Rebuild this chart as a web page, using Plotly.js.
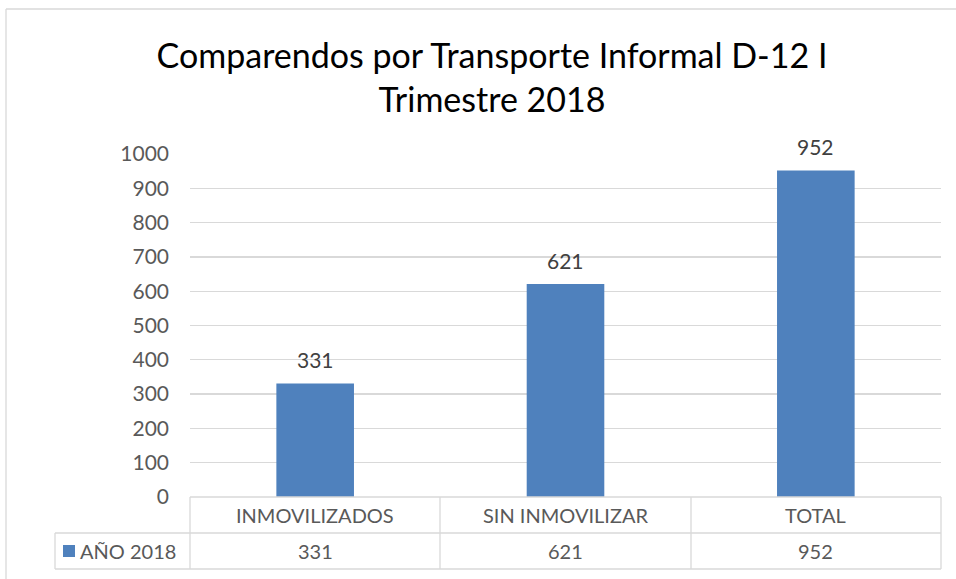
<!DOCTYPE html>
<html>
<head>
<meta charset="utf-8">
<script src="https://cdn.plot.ly/plotly-3.0.1.min.js"></script>
<style>html,body{margin:0;padding:0;background:#fff;}#chart{width:956px;height:579px;}</style>
</head>
<body>
<div id="chart"></div>
<script>
const categories = ["INMOVILIZADOS", "SIN INMOVILIZAR", "TOTAL"];
const values = [331, 621, 952];
const seriesName = "AÑO 2018";
const yTicks = [0, 100, 200, 300, 400, 500, 600, 700, 800, 900, 1000];

const W = 956, H = 579;
const L = 190, R = 15, T = 154, B = 82;
const pw = W - L - R, ph = H - T - B;
const X = px => (px - L) / pw;
const Y = py => (H - B - py) / ph;

const FONT = "Lato, 'Open Sans', sans-serif";
const GRAY = "#595959";
const LINE = "#D9D9D9";
const BLUE = "#4F81BD";

const trace = {
  type: "bar",
  x: categories,
  y: values,
  name: seriesName,
  marker: {color: BLUE},
  hoverinfo: "skip",
  showlegend: false
};

const annotations = [];
values.forEach((v, i) => {
  annotations.push({x: categories[i], y: v, xref: "x", yref: "y", text: String(v),
    showarrow: false, yanchor: "bottom", yshift: 9, font: {family: FONT, size: 21, color: "#404040"}});
  annotations.push({x: categories[i], y: Y(515), xref: "x", yref: "paper", text: categories[i],
    showarrow: false, yanchor: "middle", font: {family: FONT, size: 20, color: GRAY}});
  annotations.push({x: categories[i], y: Y(551), xref: "x", yref: "paper", text: String(v),
    showarrow: false, yanchor: "middle", font: {family: FONT, size: 20, color: GRAY}});
});
annotations.push({x: X(78), y: Y(551), xref: "paper", yref: "paper", text: seriesName,
  showarrow: false, xanchor: "left", yanchor: "middle", font: {family: FONT, size: 20, color: GRAY}});

const ln = (x0, y0, x1, y1, c) => ({type: "line", xref: "paper", yref: "paper",
  x0: X(x0), y0: Y(y0), x1: X(x1), y1: Y(y1), line: {color: c || LINE, width: 1.3}});

const shapes = [
  // outer chart border
  ln(6, 9, 960, 9, "#D9D9D9"),
  ln(6, 9, 6, 590, "#D9D9D9"),
  // table
  ln(190, 497, 941, 497),
  ln(55, 533, 941, 533),
  ln(55, 569, 941, 569),
  ln(55, 533, 55, 569),
  ln(190, 497, 190, 569),
  ln(440, 497, 440, 569),
  ln(691, 497, 691, 569),
  ln(941, 497, 941, 569),
  // legend key
  {type: "rect", xref: "paper", yref: "paper", x0: X(63), x1: X(75), y0: Y(557), y1: Y(545),
   fillcolor: BLUE, line: {width: 0}}
];

const layout = {
  width: W, height: H,
  margin: {l: L, r: R, t: T, b: B, pad: 0},
  paper_bgcolor: "#fff", plot_bgcolor: "#fff",
  title: {text: "Comparendos por Transporte Informal D-12 I<br>Trimestre 2018",
    font: {family: FONT, size: 34, color: "#000"}, x: 492 / W, xanchor: "center",
    y: 1 - 68 / H, yanchor: "top"},
  bargap: 0.69,
  xaxis: {showticklabels: false, showgrid: false, zeroline: false, showline: false, ticks: "", fixedrange: true},
  yaxis: {range: [0, 1000], tickvals: yTicks, ticktext: yTicks.map(String), showgrid: true, gridcolor: LINE, gridwidth: 1.3,
    zeroline: false, showline: false, ticks: "", ticklabelstandoff: 20,
    tickfont: {family: FONT, size: 21, color: GRAY}, fixedrange: true},
  showlegend: false,
  annotations: annotations,
  shapes: shapes
};

Plotly.newPlot("chart", [trace], layout, {displayModeBar: false, staticPlot: true});
</script>
</body>
</html>
